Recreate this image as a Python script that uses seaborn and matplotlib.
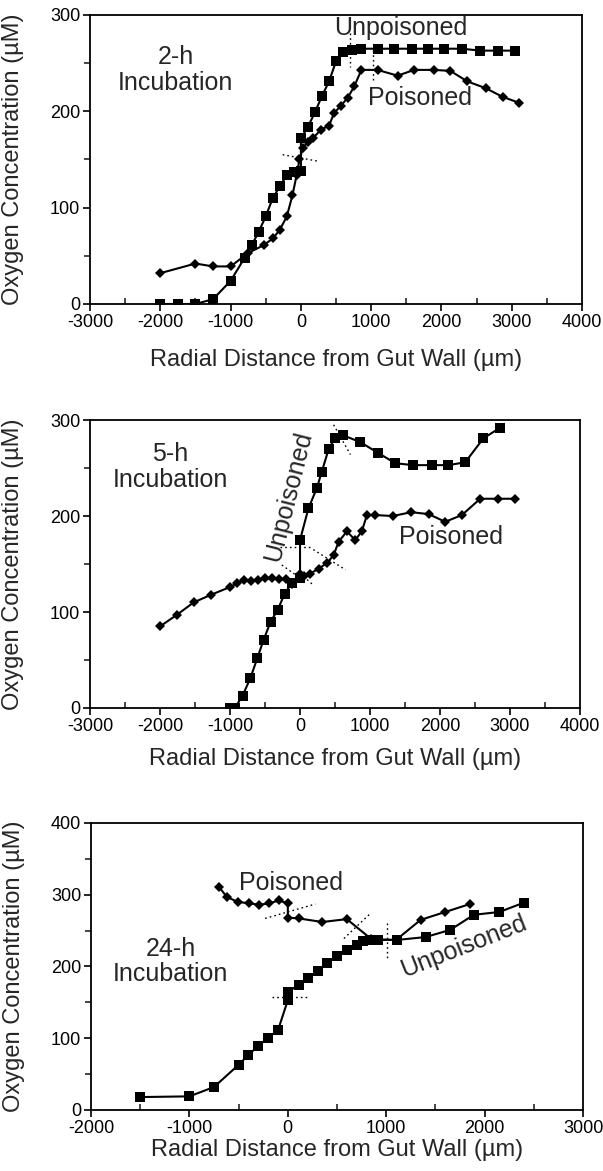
import numpy as np
import pandas as pd
import matplotlib
matplotlib.use("Agg")
import matplotlib.pyplot as plt
import seaborn as sns
from matplotlib.ticker import MultipleLocator

# ---- data (um, uM) ----
# 2-h incubation
p1_unp_x = [-2000, -1750, -1500, -1250, -1000, -800, -700, -600, -500, -400, -300, -200, -100, 0, 0,
            100, 200, 300, 400, 500, 600, 730, 850, 1090, 1330, 1580, 1810, 2040, 2290, 2550, 2810, 3050]
p1_unp_y = [0, 0, 0, 5, 24, 48, 61, 75, 91, 110, 122, 134, 137, 138, 172,
            184, 199, 216, 231, 252, 262, 264, 265, 265, 265, 265, 265, 265, 265, 263, 263, 263]
p1_poi_x = [-2000, -1500, -1250, -1000, -750, -530, -400, -300, -200, -120, -60, -20, 30, 95, 170,
            285, 400, 470, 570, 665, 760, 860, 1090, 1375, 1610, 1890, 2125, 2370, 2630, 2870, 3100]
p1_poi_y = [32, 42, 39, 39, 53, 61, 68, 77, 91, 113, 134, 150, 162, 168, 172,
            181, 185, 198, 206, 214, 226, 243, 243, 237, 243, 243, 242, 231, 224, 215, 209]

# 5-h incubation
p2_unp_x = [-1000, -930, -820, -710, -610, -520, -420, -320, -220, -120, 0, 0,
            120, 240, 310, 410, 500, 620, 860, 1110, 1360, 1620, 1880, 2120, 2360, 2620, 2860]
p2_unp_y = [0, 0, 13, 31, 52, 71, 90, 102, 119, 130, 135, 175,
            208, 229, 246, 270, 281, 284, 277, 266, 255, 253, 253, 253, 256, 281, 292]
p2_poi_x = [-2000, -1760, -1520, -1270, -1000, -900, -800, -700, -600, -500, -400, -300, -200, -110, 0,
            50, 145, 264, 383, 479, 550, 669, 788, 883, 955, 1074, 1326, 1589, 1836, 2074, 2312, 2574, 2826, 3064]
p2_poi_y = [85, 97, 110, 118, 126, 130, 133, 132, 133, 135, 135, 134, 134, 129, 140,
            138, 140, 145, 151, 159, 173, 184, 175, 184, 201, 201, 200, 204, 202, 194, 201, 218, 218, 218]

# 24-h incubation
p3_unp_x = [-1500, -1000, -750, -500, -400, -300, -200, -100, 0, 0, 110, 210, 310, 400, 500,
            600, 700, 760, 840, 920, 1110, 1400, 1650, 1890, 2150, 2400]
p3_unp_y = [18, 19, 32, 63, 77, 89, 101, 111, 153, 165, 174, 184, 194, 205, 214,
            223, 230, 235, 237, 237, 237, 241, 251, 272, 276, 289]
p3_poi_x = [-700, -620, -510, -390, -290, -190, -90, 0, 0, 110, 350, 600, 850, 1100, 1350, 1600, 1850]
p3_poi_y = [311, 297, 290, 288, 286, 288, 292, 288, 268, 267, 262, 266, 238, 237, 265, 276, 287]

# dotted interface guides (x0, x1, y0, y1)
p1_guides = [(-260, 260, 155, 148), (700, 700, 281, 246), (1020, 1020, 264, 233)]
p2_guides = [(480, 720, 295, 264), (-280, 190, 168, 168), (190, 650, 165, 144),
             (-260, -70, 149, 139), (50, 190, 137, 128)]
p3_guides = [(-230, 280, 267, 287), (-160, 210, 158, 158), (570, 840, 239, 274), (1010, 1010, 260, 209)]

panels = [
    dict(unp=(p1_unp_x, p1_unp_y), poi=(p1_poi_x, p1_poi_y), guides=p1_guides,
         xlim=(-3000, 4000), ylim=(0, 300), rect=[0.1493, 0.7404, 0.816, 0.2468],
         title="2-h\nIncubation", title_xy=(-1780, 243),
         unp_lab=(1420, 287, 0), poi_lab=(1690, 214, 0), xlab_y=-0.155),
    dict(unp=(p2_unp_x, p2_unp_y), poi=(p2_poi_x, p2_poi_y), guides=p2_guides,
         xlim=(-3000, 4000), ylim=(0, 300), rect=[0.1493, 0.3954, 0.8126, 0.2459],
         title="5-h\nIncubation", title_xy=(-1850, 251),
         unp_lab=(-170, 220, 76), poi_lab=(2150, 178, 0), xlab_y=-0.14),
    dict(unp=(p3_unp_x, p3_unp_y), poi=(p3_poi_x, p3_poi_y), guides=p3_guides,
         xlim=(-2000, 3000), ylim=(0, 400), rect=[0.1509, 0.0521, 0.816, 0.2451],
         title="24-h\nIncubation", title_xy=(-1190, 207),
         unp_lab=(1790, 228, 21.5), poi_lab=(30, 316, 0), xlab_y=-0.1),
]

sns.set_theme(style="ticks")
plt.rcParams['font.family'] = ['Liberation Sans', 'DejaVu Sans']
plt.rcParams['axes.linewidth'] = 1.3
plt.rcParams['axes.unicode_minus'] = False

fig = plt.figure(figsize=(6.03, 11.71), dpi=100)

for p in panels:
    ax = fig.add_axes(p["rect"])
    ux, uy = p["unp"]
    px, py = p["poi"]
    sns.lineplot(x=ux, y=uy, ax=ax, sort=False, estimator=None, color="black",
                 lw=1.5, marker="s", markersize=7, markeredgewidth=0)
    sns.lineplot(x=px, y=py, ax=ax, sort=False, estimator=None, color="black",
                 lw=1.5, marker="D", markersize=5.5, markeredgewidth=0)
    for x0, x1, y0, y1 in p["guides"]:
        ax.plot([x0, x1], [y0, y1], color="black", lw=1.0, ls=(0, (1.2, 2.2)))

    ax.set_xlim(*p["xlim"])
    ax.set_ylim(*p["ylim"])
    ax.xaxis.set_major_locator(MultipleLocator(1000))
    ax.xaxis.set_minor_locator(MultipleLocator(500))
    ax.yaxis.set_major_locator(MultipleLocator(100))
    ax.yaxis.set_minor_locator(MultipleLocator(50))
    ax.tick_params(axis="both", which="major", labelsize=13, length=5, width=1.2,
                   direction="out", colors="black", pad=2)
    ax.tick_params(axis="x", which="minor", length=4, width=1.2, direction="in")
    ax.tick_params(axis="y", which="minor", length=4, width=1.2, direction="out")
    for s in ax.spines.values():
        s.set_visible(True)
        s.set_color("black")

    ax.set_xlabel("Radial Distance from Gut Wall (\u00b5m)", fontsize=17)
    ax.set_ylabel("Oxygen Concentration (\u00b5M)", fontsize=17)
    ax.xaxis.set_label_coords(0.5, p["xlab_y"])
    ax.yaxis.set_label_coords(-0.135, 0.5)

    tx, ty = p["title_xy"]
    ax.text(tx, ty, p["title"], ha="center", va="center", fontsize=18, linespacing=1.1)
    x, y, r = p["unp_lab"]
    ax.text(x, y, "Unpoisoned", ha="center", va="center", fontsize=18, rotation=r,
            rotation_mode="anchor")
    x, y, r = p["poi_lab"]
    ax.text(x, y, "Poisoned", ha="center", va="center", fontsize=18, rotation=r)

fig.savefig("out.png", dpi=100)
